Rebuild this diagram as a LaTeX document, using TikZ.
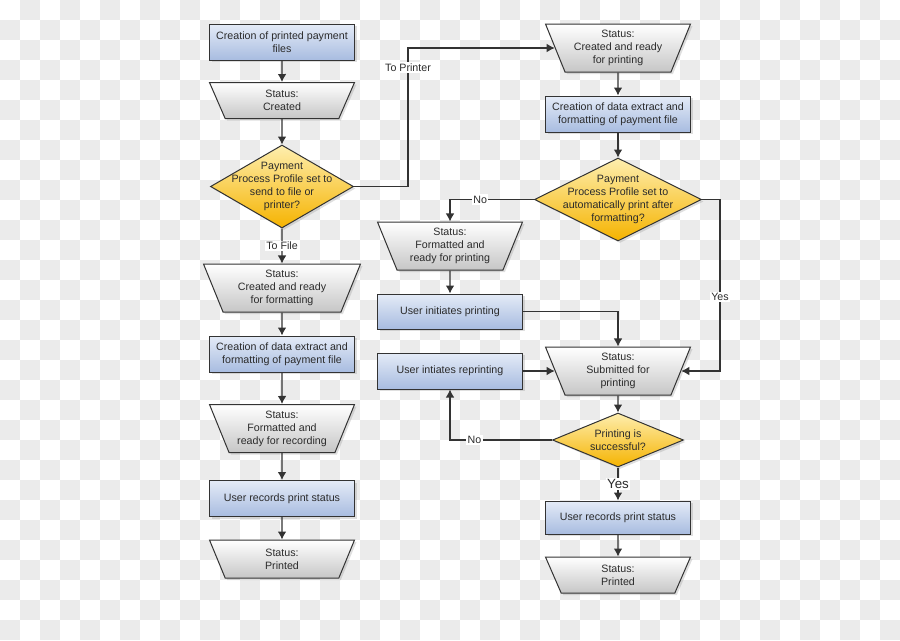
\documentclass[tikz,border=0pt]{standalone}
\usepackage{fontspec}
\setmainfont{Liberation Sans}
\usetikzlibrary{arrows.meta, shapes.geometric, shadows}

\definecolor{ink}{HTML}{2B2B2B}
\definecolor{edge}{HTML}{333333}
\definecolor{checker}{HTML}{EBEBEB}
\definecolor{boxtop}{HTML}{E4EBF7}
\definecolor{boxbot}{HTML}{A8BCE0}
\definecolor{stbot}{HTML}{C6C6C6}
\definecolor{dectop}{HTML}{FEEEAE}
\definecolor{decbot}{HTML}{F5B300}

\begin{document}
\begin{tikzpicture}[x=0.75pt, y=-0.75pt, font=\fontsize{8}{9.75}\selectfont, text=ink,
  card/.style={draw=edge, line width=0.75pt,
    drop shadow={shadow xshift=1.5pt, shadow yshift=-1.5pt, opacity=0.25}},
  box/.style={card, rectangle, align=center, minimum width=108.75pt,
    minimum height=27pt, inner sep=1pt, top color=boxtop, bottom color=boxbot},
  status/.style={card, trapezium, shape border rotate=180, trapezium stretches body,
    trapezium left angle=63, trapezium right angle=63, align=center,
    minimum width=108.75pt, minimum height=36pt, inner sep=1pt,
    top color=white, bottom color=stbot},
  flat/.style={minimum height=27pt, trapezium left angle=56, trapezium right angle=56},
  decision/.style={card, diamond, inner sep=0pt, top color=dectop, bottom color=decbot},
  flow/.style={draw=edge, line width=0.9pt, -{Latex[length=6pt, width=6.5pt]}},
  tag/.style={fill=white, inner sep=1pt}]

  % background squares, 20px each
  \useasboundingbox (0,0) rectangle (900,640);
  \foreach \i in {0,...,44}
    \foreach \j in {0,...,31}
      {\ifodd\numexpr\i+\j\relax \fill[checker] (20*\i,20*\j) rectangle ++(20,20);\fi}

  % left column (payment file)
  \node[box] (Files) at (282,42) {Creation of printed payment\\files};
  \node[status, flat] (Created) at (282,100.5) {Status:\\Created};
  \node[decision, minimum width=107.25pt, minimum height=62.25pt,
    label={[align=center]center:Payment\\Process Profile set to\\send to file or\\printer?}]
    (Where) at (282,186.5) {};
  \node[status, minimum width=117.75pt] (ReadyFmt) at (282,288) {Status:\\Created and ready\\for formatting};
  \node[box] (ExtractL) at (282,354) {Creation of data extract and\\formatting of payment file};
  \node[status] (FmtRec) at (282,428.5) {Status:\\Formatted and\\ready for recording};
  \node[box] (RecordL) at (282,498.5) {User records print status};
  \node[status, flat, minimum height=28.5pt] (PrintedL) at (282,559) {Status:\\Printed};

  % right column (printer)
  \node[status] (ReadyPrt) at (618,48) {Status:\\Created and ready\\for printing};
  \node[box] (ExtractR) at (618,114) {Creation of data extract and\\formatting of payment file};
  \node[decision, minimum width=125.25pt, minimum height=62.25pt,
    label={[align=center]center:Payment\\Process Profile set to\\automatically print after\\formatting?}]
    (Auto) at (618,199.5) {};
  \node[status] (FmtPrt) at (450,246) {Status:\\Formatted and\\ready for printing};
  \node[box, minimum height=26.25pt] (Initiate) at (450,311.5) {User initiates printing};
  \node[box] (Reprint) at (450,371) {User intiates reprinting};
  \node[status] (Submitted) at (618,371) {Status:\\Submitted for\\printing};
  \node[decision, minimum width=98.25pt, minimum height=40.5pt,
    label={[align=center]center:Printing is\\successful?}]
    (Success) at (618,440) {};
  \node[box, minimum height=24.75pt] (RecordR) at (618,517.5) {User records print status};
  \node[status, flat] (PrintedR) at (618,575) {Status:\\Printed};

  % connectors
  \draw[flow] (Files) -- (Created);
  \draw[flow] (Created) -- (Where);
  \draw[flow] (Where) -- node[tag] {To File} (ReadyFmt);
  \draw[flow] (ReadyFmt) -- (ExtractL);
  \draw[flow] (ExtractL) -- (FmtRec);
  \draw[flow] (FmtRec) -- (RecordL);
  \draw[flow] (RecordL) -- (PrintedL);
  \draw[flow] (Where.east) -- ++(54,0) |- node[tag, pos=0.43] {To Printer} (ReadyPrt);

  \draw[flow] (ReadyPrt) -- (ExtractR);
  \draw[flow] (ExtractR) -- (Auto);
  \draw[flow] (Auto.west) -| node[tag, pos=0.32] {No} (FmtPrt);
  \draw[flow] (Auto.east) -- ++(18,0) |- node[tag, pos=0.285] {Yes} (Submitted);
  \draw[flow] (FmtPrt) -- (Initiate);
  \draw[flow] (Initiate.east) -| (Submitted);
  \draw[flow] (Reprint) -- (Submitted);
  \draw[flow] (Submitted) -- (Success);
  \draw[flow] (Success.west) -| node[tag, pos=0.38] {No} (Reprint);
  \draw[flow] (Success) -- node[tag, font=\fontsize{10}{12}\selectfont] {Yes} (RecordR);
  \draw[flow] (RecordR) -- (PrintedR);
\end{tikzpicture}
\end{document}
